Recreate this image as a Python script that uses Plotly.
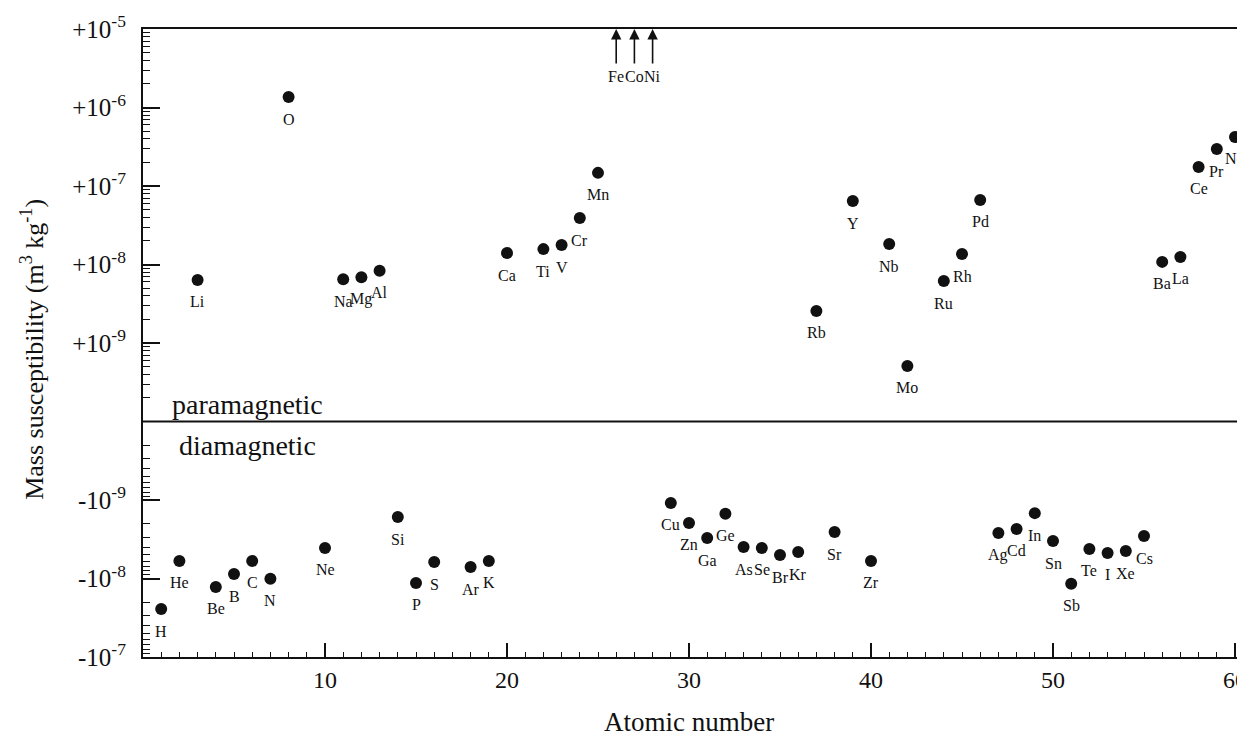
import numpy as np
import plotly.graph_objects as go

# ---------------- data ----------------
symbols = ["H", "He", "Li", "Be", "B", "C", "N", "O", "Ne", "Na", "Mg", "Al", "Si", "P", "S",
           "Ar", "K", "Ca", "Ti", "V", "Cr", "Mn", "Cu", "Zn", "Ga", "Ge", "As", "Se", "Br",
           "Kr", "Rb", "Sr", "Y", "Zr", "Nb", "Mo", "Ru", "Rh", "Pd", "Ag", "Cd", "In", "Sn",
           "Sb", "Te", "I", "Xe", "Cs", "Ba", "La", "Ce", "Pr", "Nd"]
atomic_number = [1, 2, 3, 4, 5, 6, 7, 8, 10, 11, 12, 13, 14, 15, 16,
                 18, 19, 20, 22, 23, 24, 25, 29, 30, 31, 32, 33, 34, 35,
                 36, 37, 38, 39, 40, 41, 42, 44, 45, 46, 47, 48, 49, 50,
                 51, 52, 53, 54, 55, 56, 57, 58, 59, 60]
# mass susceptibility, m^3 kg^-1
chi = [-2.45e-8, -5.98e-9, 6.35e-9, -1.28e-8, -8.77e-9, -5.98e-9, -1.01e-8, 1.36e-6,
       -4.08e-9, 6.5e-9, 6.9e-9, 8.3e-9, -1.65e-9, -1.14e-8, -6.17e-9,
       -7.14e-9, -5.98e-9, 1.40e-8, 1.57e-8, 1.77e-8, 3.91e-8, 1.47e-7,
       -1.09e-9, -1.96e-9, -3.05e-9, -1.50e-9, -3.97e-9, -4.08e-9, -5.02e-9,
       -4.60e-9, 2.56e-9, -2.56e-9, 6.44e-8, -5.98e-9, 1.82e-8, 5.1e-10,
       6.16e-9, 1.36e-8, 6.64e-8, -2.63e-9, -2.34e-9, -1.47e-9, -3.33e-9,
       -1.17e-8, -4.2e-9, -4.73e-9, -4.47e-9, -2.88e-9, 1.08e-8, 1.25e-8,
       1.75e-7, 2.96e-7, 4.21e-7]

# ferromagnetic elements, off the top of the scale
offscale_symbols = ["Fe", "Co", "Ni"]
offscale_z = [26, 27, 28]

# axis ticks
pos_exponents = [-5, -6, -7, -8, -9]
neg_exponents = [-9, -8, -7]
x_tick_vals = [10, 20, 30, 40, 50, 60]

ZERO_DECADE = -10  # |chi| = 1e-10 sits on the para/dia dividing line


def to_axis(v):
    v = np.asarray(v, dtype=float)
    return np.sign(v) * (np.log10(np.abs(v)) - ZERO_DECADE)


t_vals = to_axis(chi)

FONT = "Liberation Serif, Times New Roman, serif"
BLACK = "#111111"

fig = go.Figure()
fig.add_trace(go.Scatter(
    x=atomic_number, y=t_vals, mode="markers",
    marker=dict(size=12, color=BLACK, line=dict(width=0)),
    hovertext=symbols, showlegend=False, cliponaxis=False,
))

annotations = []
for s, z, t in zip(symbols, atomic_number, t_vals):
    annotations.append(dict(x=z, y=t, xref="x", yref="y", text=s, showarrow=False,
                            xanchor="center", yanchor="middle", yshift=-22,
                            font=dict(family=FONT, size=16, color=BLACK)))

top_t = float(to_axis([10.0 ** pos_exponents[0]])[0])
bottom_t = float(to_axis([-10.0 ** neg_exponents[-1]])[0])

for s, z in zip(offscale_symbols, offscale_z):
    annotations.append(dict(x=z, y=top_t, xref="x", yref="y", ax=z, ay=top_t - 0.46,
                            axref="x", ayref="y", text="", showarrow=True,
                            arrowhead=2, arrowsize=1.3, arrowwidth=1.6, arrowcolor=BLACK))
    annotations.append(dict(x=z, y=top_t - 0.61, xref="x", yref="y", text=s, showarrow=False,
                            xanchor="center", yanchor="middle",
                            font=dict(family=FONT, size=16, color=BLACK)))

annotations += [
    dict(x=5.74, y=0.22, xref="x", yref="y", text="paramagnetic", showarrow=False,
         xanchor="center", yanchor="middle", font=dict(family=FONT, size=28, color=BLACK)),
    dict(x=5.74, y=-0.30, xref="x", yref="y", text="diamagnetic", showarrow=False,
         xanchor="center", yanchor="middle", font=dict(family=FONT, size=28, color=BLACK)),
    dict(x=30.0, y=-0.1035, xref="x", yref="paper", text="Atomic number", showarrow=False,
         xanchor="center", yanchor="middle", font=dict(family=FONT, size=27, color=BLACK)),
    dict(x=-0.101, y=0.49, xref="paper", yref="paper", textangle=-90,
         xanchor="center", yanchor="middle",
         text="Mass susceptibility (m<sup>3</sup> kg<sup>-1</sup>)", showarrow=False,
         font=dict(family=FONT, size=26, color=BLACK)),
]

# y ticks
y_tickvals = [float(to_axis([10.0 ** e])[0]) for e in pos_exponents] + \
             [float(to_axis([-10.0 ** e])[0]) for e in neg_exponents]
y_ticktext = ["+10<sup>%d</sup>" % e for e in pos_exponents] + \
             ["-10<sup>%d</sup>" % e for e in neg_exponents]

minor_y = []
for k in range(int(round(top_t))):
    for m in range(2, 10):
        minor_y.append(k + np.log10(m))
for k in range(int(round(-bottom_t))):
    for m in range(2, 10):
        minor_y.append(-(k + np.log10(m)))

# divider between paramagnetic and diamagnetic
fig.add_shape(type="line", xref="paper", yref="y", x0=0, x1=1, y0=0, y1=0,
              line=dict(color=BLACK, width=1.8))

# page body adds an 8px margin; size the figure so the page does not overflow
fig.update_layout(
    width=1229, height=724,
    margin=dict(l=135, r=0, t=21, b=75, autoexpand=False),
    paper_bgcolor="white", plot_bgcolor="white",
    font=dict(family=FONT, color=BLACK),
    annotations=annotations,
    xaxis=dict(range=[0, 60.11], tickmode="array", tickvals=x_tick_vals,
               ticks="inside", ticklen=14, tickwidth=1.6, tickcolor=BLACK,
               showline=True, linecolor=BLACK, linewidth=2.2, mirror=True,
               showgrid=False, zeroline=False, ticklabelstandoff=0,
               ticklabeloverflow="allow", automargin=False,
               tickfont=dict(family=FONT, size=24, color=BLACK),
               minor=dict(tickmode="linear", tick0=0, dtick=1, ticks="inside",
                          ticklen=5, tickwidth=1.3, tickcolor=BLACK, showgrid=False)),
    yaxis=dict(range=[bottom_t, top_t], tickmode="array", tickvals=y_tickvals,
               ticktext=y_ticktext, ticks="inside", ticklen=17, tickwidth=2,
               tickcolor=BLACK, showline=True, linecolor=BLACK, linewidth=2.2,
               showgrid=False, zeroline=False, ticklabelstandoff=10, automargin=False,
               tickfont=dict(family=FONT, size=25, color=BLACK),
               minor=dict(tickmode="array", tickvals=minor_y, ticks="inside",
                          ticklen=7, tickwidth=1.3, tickcolor=BLACK, showgrid=False)),
)

fig.write_html("out.html")
